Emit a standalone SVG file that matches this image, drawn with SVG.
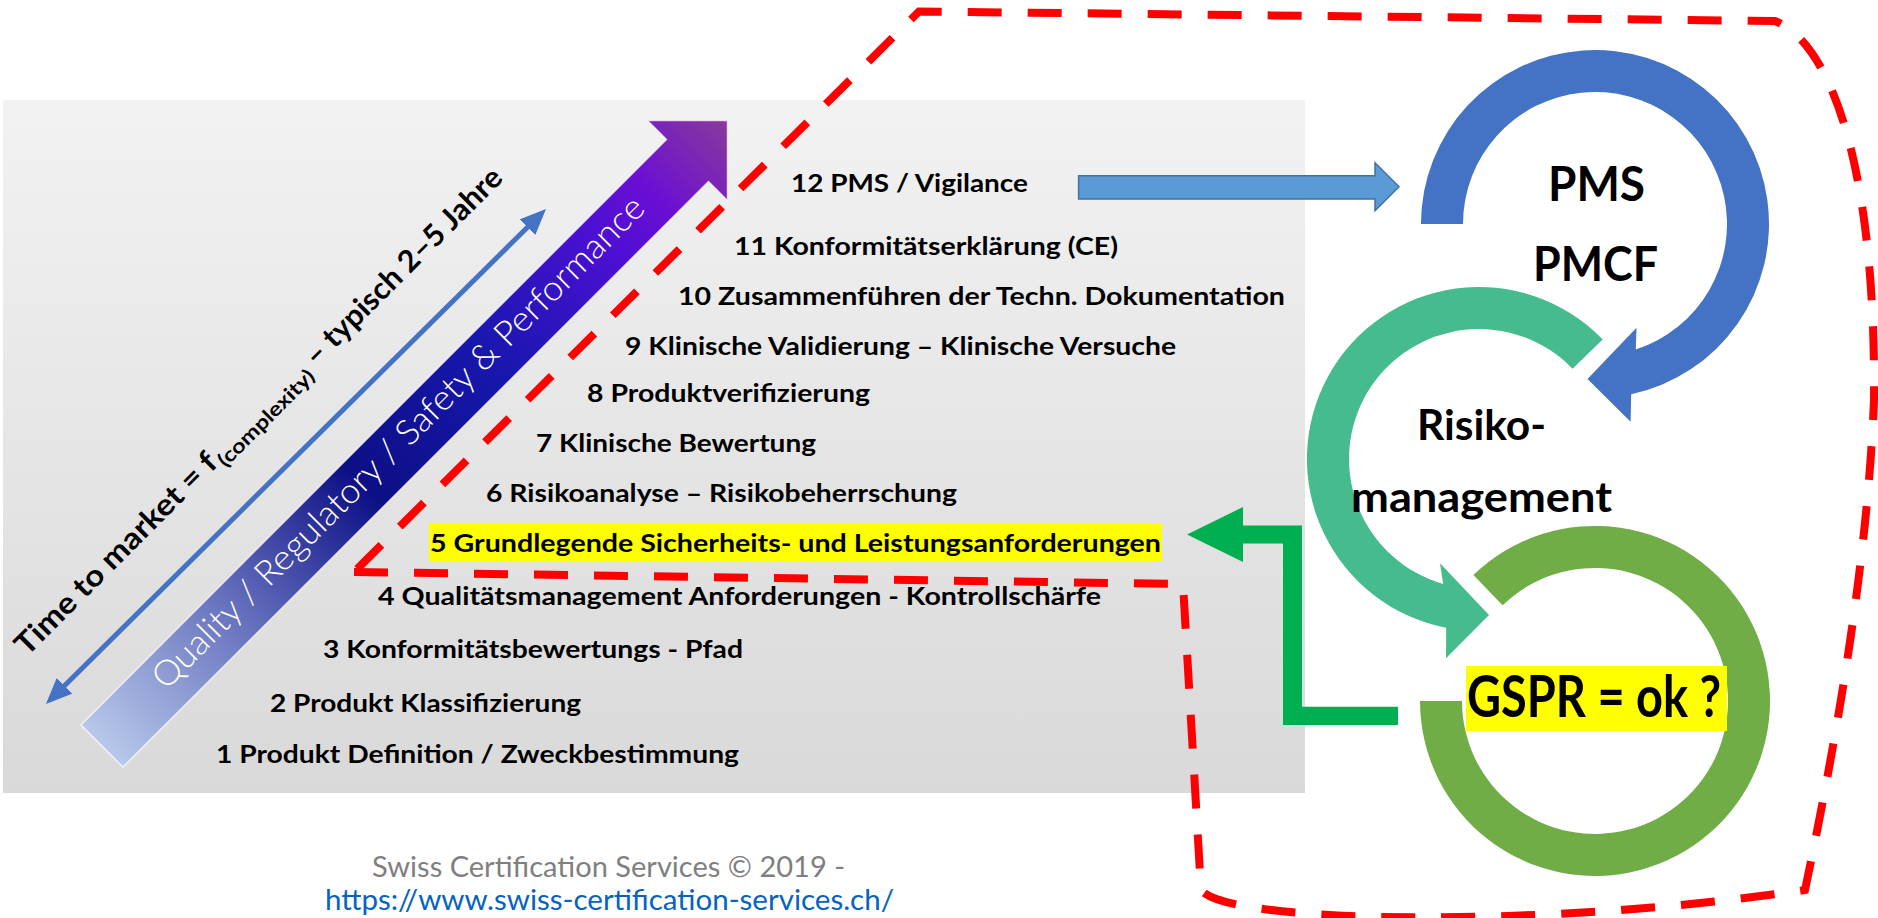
<svg xmlns="http://www.w3.org/2000/svg" width="1878" height="918" viewBox="0 0 1878 918">
  <defs>
    <linearGradient id="bg" x1="0" y1="0" x2="0" y2="1">
      <stop offset="0" stop-color="#f2f2f2"/>
      <stop offset="1" stop-color="#d9d9d9"/>
    </linearGradient>
    <linearGradient id="qa" gradientUnits="userSpaceOnUse" x1="100" y1="748" x2="727" y2="121">
      <stop offset="0" stop-color="#b8c9ea"/>
      <stop offset="0.22" stop-color="#6570bd"/>
      <stop offset="0.42" stop-color="#0d0f85"/>
      <stop offset="0.62" stop-color="#1717ad"/>
      <stop offset="0.8" stop-color="#4a10d2"/>
      <stop offset="0.88" stop-color="#6a0ed4"/>
      <stop offset="1" stop-color="#8a3a9c"/>
    </linearGradient>
    <marker id="ah" markerUnits="userSpaceOnUse" markerWidth="26" markerHeight="22" viewBox="0 0 26 22" refX="16" refY="11" orient="auto-start-reverse">
      <path d="M0,0 L26,11 L0,22 Z" fill="#4472c4"/>
    </marker>
    <style>
      .item { font-family: Lato, "Open Sans", "Liberation Sans", sans-serif; font-weight: 700; font-size: 25px; fill: #000; }
      .big { font-family: Lato, "Open Sans", "Liberation Sans", sans-serif; font-weight: 700; fill: #000; }
      .foot { font-family: Lato, "Open Sans", "Liberation Sans", sans-serif; font-size: 28px; }
      .hl { fill: #ffff00; }
      .dash { fill: none; stroke: #ff0000; stroke-width: 8; stroke-dasharray: 34 26; stroke-linejoin: miter; }
    </style>
  </defs>

  <g id="background">
    <rect x="3" y="100" width="1302" height="693" fill="url(#bg)"/>
  </g>

  <g id="quality-arrow">
    <polygon points="81,725 666.5,139.5 647.5,120.5 727.5,120.5 727.5,200.5 708.5,181.5 123,767" fill="url(#qa)" stroke="#ffffff" stroke-opacity="0.7" stroke-width="1.5"/>
    <text transform="translate(166,691) rotate(-45)" textLength="680" lengthAdjust="spacingAndGlyphs" font-family="Lato, 'Open Sans', 'Liberation Sans', sans-serif" font-weight="300" font-size="35" fill="#ffffff">Quality / Regulatory / Safety &amp; Performance</text>
  </g>

  <g id="time-to-market">
    <text transform="translate(27,657) rotate(-45)" class="big" font-size="30"><tspan x="0" y="0" textLength="272" lengthAdjust="spacingAndGlyphs">Time to market = f</tspan><tspan x="274" y="7" font-size="20" textLength="128" lengthAdjust="spacingAndGlyphs">(complexity)</tspan><tspan x="402" y="0" textLength="273" lengthAdjust="spacingAndGlyphs"> – typisch 2–5 Jahre</tspan></text>
  </g>

  <g id="steps">
    <text class="item" x="791" y="192" textLength="237" lengthAdjust="spacingAndGlyphs">12 PMS / Vigilance</text>
    <text class="item" x="734" y="255" textLength="384" lengthAdjust="spacingAndGlyphs">11 Konformitätserklärung (CE)</text>
    <text class="item" x="678" y="305" textLength="607" lengthAdjust="spacingAndGlyphs">10 Zusammenführen der Techn. Dokumentation</text>
    <text class="item" x="625" y="355" textLength="551" lengthAdjust="spacingAndGlyphs">9 Klinische Validierung – Klinische Versuche</text>
    <text class="item" x="587" y="402" textLength="283" lengthAdjust="spacingAndGlyphs">8 Produktverifizierung</text>
    <text class="item" x="536" y="452" textLength="280" lengthAdjust="spacingAndGlyphs">7 Klinische Bewertung</text>
    <text class="item" x="486" y="502" textLength="471" lengthAdjust="spacingAndGlyphs">6 Risikoanalyse – Risikobeherrschung</text>
    <rect class="hl" x="429" y="523" width="733" height="38"/>
    <text class="item" x="430" y="552" textLength="731" lengthAdjust="spacingAndGlyphs">5 Grundlegende Sicherheits- und Leistungsanforderungen</text>
    <text class="item" x="378" y="605" textLength="723" lengthAdjust="spacingAndGlyphs">4 Qualitätsmanagement Anforderungen - Kontrollschärfe</text>
    <text class="item" x="323" y="658" textLength="420" lengthAdjust="spacingAndGlyphs">3 Konformitätsbewertungs - Pfad</text>
    <text class="item" x="270" y="712" textLength="311" lengthAdjust="spacingAndGlyphs">2 Produkt Klassifizierung</text>
    <text class="item" x="216" y="763" textLength="523" lengthAdjust="spacingAndGlyphs">1 Produkt Definition / Zweckbestimmung</text>
  </g>

  <g id="gspr-ring">
    <path d="M 1420,701 A 175 175 0 1 0 1473.4,575.1 L 1502.6,605.3 A 133 133 0 1 1 1462,701 Z" fill="#70ad47"/>
    <rect class="hl" x="1466" y="666" width="261" height="65"/>
    <text class="big" x="1467" y="717" font-size="57" textLength="254" lengthAdjust="spacingAndGlyphs">GSPR = ok ?</text>
  </g>

  <g id="risiko-ring">
    <path d="M 1602.7,339.5 A 172 172 0 1 0 1446.2,627.8 L 1446,658.3 L 1489,615 L 1440,563.3 L 1443.2,584 A 130 130 0 1 1 1572.5,368.7 Z" fill="#46bb8d"/>
    <text class="big" x="1417" y="440" font-size="42" textLength="129" lengthAdjust="spacingAndGlyphs">Risiko-</text>
    <text class="big" x="1351" y="512" font-size="42" textLength="261" lengthAdjust="spacingAndGlyphs">management</text>
  </g>

  <g id="pms-ring">
    <path d="M 1421,224 A 174 174 0 1 1 1631.2,394.2 L 1630.6,421.7 L 1587.5,379 L 1636.5,327.7 L 1635.8,349.5 A 132 132 0 1 0 1463,224 Z" fill="#4472c4"/>
    <text class="big" x="1548" y="201" font-size="48" textLength="97" lengthAdjust="spacingAndGlyphs">PMS</text>
    <text class="big" x="1533" y="281" font-size="48" textLength="125" lengthAdjust="spacingAndGlyphs">PMCF</text>
  </g>

  <g id="connectors">
    <line x1="53.1" y1="697" x2="538.9" y2="216" stroke="#4472c4" stroke-width="5" marker-start="url(#ah)" marker-end="url(#ah)"/>
    <polygon points="1078.6,175.7 1375,175.7 1375,162.7 1399,186.7 1375,210.7 1375,199 1078.6,199" fill="#5b9bd5" stroke="#41719c" stroke-width="1.5"/>
    <polygon points="1398,706.7 1302,706.7 1302,525.5 1243,525.5 1243,507 1187,534.5 1243,562 1243,543.5 1283,543.5 1283,725 1398,725" fill="#00b050"/>
    <path class="dash" d="M 354,572 L 1183,584 L 1201,890 C 1230,925 1550,928 1805,890 Q 1866,600 1874,400 C 1876,150 1825,40 1775,21 L 919,11.5 Z"/>
  </g>

  <g id="footer">
    <text class="foot" x="372" y="877" fill="#7f7f7f" textLength="473" lengthAdjust="spacingAndGlyphs">Swiss Certification Services © 2019 -</text>
    <text class="foot" x="325" y="910" fill="#0563c1" textLength="569" lengthAdjust="spacingAndGlyphs">https://www.swiss-certification-services.ch/</text>
  </g>
</svg>
